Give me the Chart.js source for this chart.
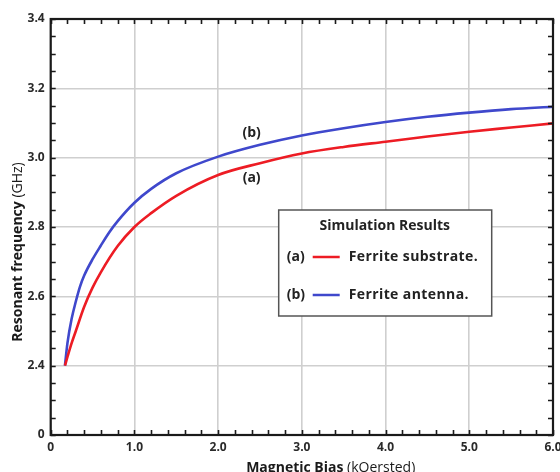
<!DOCTYPE html>
<html><head><meta charset="utf-8">
<script src="https://cdn.jsdelivr.net/npm/chart.js@4"></script>
<style>html,body{margin:0;padding:0;background:#fff}</style>
</head><body>
<canvas id="c" width="560" height="472"></canvas>
<script>
// ---- data ----
const biasA = [0.17, 0.2, 0.25, 0.3, 0.4, 0.5, 0.6, 0.8, 1.0, 1.2, 1.5, 2.0, 2.5, 3.0, 3.5, 4.0, 4.5, 5.0, 5.5, 6.0];
const freqA = [2.40, 2.425, 2.465, 2.50, 2.57, 2.625, 2.67, 2.745, 2.80, 2.84, 2.89, 2.95, 2.984, 3.012, 3.031, 3.046, 3.061, 3.075, 3.087, 3.099];
const biasB = [0.17, 0.2, 0.25, 0.3, 0.35, 0.4, 0.5, 0.6, 0.7, 0.8, 1.0, 1.2, 1.5, 2.0, 2.5, 3.0, 3.5, 4.0, 4.5, 5.0, 5.5, 6.0];
const freqB = [2.40, 2.465, 2.535, 2.585, 2.628, 2.66, 2.707, 2.747, 2.785, 2.817, 2.87, 2.91, 2.955, 3.003, 3.037, 3.064, 3.085, 3.103, 3.118, 3.13, 3.14, 3.147];
const xTickLabels = ['0', '1.0', '2.0', '3.0', '4.0', '5.0', '6.0'];
const yTickLabels = ['0', '2.4', '2.6', '2.8', '3.0', '3.2', '3.4'];
const seriesNames = ['Ferrite substrate.', 'Ferrite antenna.'];
const seriesTags = ['(a)', '(b)'];
const tagX = [2.4, 2.4];
const tagY = [2.941, 3.072];
const legendTitle = 'Simulation Results';
const xTitle = ['Magnetic Bias ', '(kOersted)'];
const yTitle = ['Resonant frequency ', '(GHz)'];

const FONT = '"Open Sans", "DejaVu Sans", sans-serif';
const colors = ['#ed1c24', '#3f48cc'];

const framePlugin = {
  id: 'frame',
  afterDraw(chart) {
    const {ctx, chartArea: a, scales: {x, y}} = chart;
    ctx.save();
    // inward ticks
    ctx.strokeStyle = '#1a1a1a';
    ctx.lineWidth = 1.6;
    const tl = 5;
    const xs = chart.options.scales.x, ys = chart.options.scales.y;
    const nx = Math.round((xs.max - xs.min) / 0.2);
    for (let i = 0; i <= nx; i++) {
      const px = Math.round(x.getPixelForValue(xs.min + i * 0.2)) + 0.5;
      ctx.beginPath();
      ctx.moveTo(px, a.bottom); ctx.lineTo(px, a.bottom - tl);
      ctx.moveTo(px, a.top); ctx.lineTo(px, a.top + tl);
      ctx.stroke();
    }
    const ny = Math.round((ys.max - ys.min) / 0.05);
    for (let i = 0; i <= ny; i++) {
      const py = Math.round(y.getPixelForValue(ys.min + i * 0.05)) + 0.5;
      ctx.beginPath();
      ctx.moveTo(a.left, py); ctx.lineTo(a.left + tl, py);
      ctx.moveTo(a.right, py); ctx.lineTo(a.right - tl, py);
      ctx.stroke();
    }
    // frame
    ctx.lineWidth = 2.2;
    ctx.strokeRect(a.left, a.top, a.right - a.left, a.bottom - a.top);

    // curve tags
    ctx.fillStyle = '#222';
    ctx.font = 'bold 14px ' + FONT;
    ctx.textAlign = 'center';
    ctx.textBaseline = 'middle';
    for (let i = 0; i < seriesTags.length; i++) {
      ctx.fillText(seriesTags[i], x.getPixelForValue(tagX[i]), y.getPixelForValue(tagY[i]));
    }

    // legend box
    const lx = a.left + 228, ly = a.top + 191, lw = 213, lh = 106;
    ctx.fillStyle = '#fff';
    ctx.fillRect(lx, ly, lw, lh);
    ctx.strokeStyle = '#555';
    ctx.lineWidth = 1.5;
    ctx.strokeRect(lx, ly, lw, lh);
    ctx.fillStyle = '#222';
    ctx.font = 'bold 14px ' + FONT;
    ctx.textAlign = 'center';
    ctx.fillText(legendTitle, lx + 106, ly + 16);
    for (let i = 0; i < seriesNames.length; i++) {
      const cy = ly + 47 + i * 38;
      ctx.textAlign = 'left';
      ctx.font = 'bold 14px ' + FONT;
      ctx.fillText(seriesTags[i], lx + 8, cy);
      ctx.strokeStyle = colors[i];
      ctx.lineWidth = 2.5;
      ctx.beginPath(); ctx.moveTo(lx + 34, cy); ctx.lineTo(lx + 61, cy); ctx.stroke();
      ctx.font = 'bold 14px ' + FONT;
      if ('letterSpacing' in ctx) ctx.letterSpacing = '0.4px';
      ctx.fillText(seriesNames[i], lx + 70, cy);
      if ('letterSpacing' in ctx) ctx.letterSpacing = '0px';
    }

    // axis titles (mixed weight)
    ctx.fillStyle = '#1a1a1a';
    ctx.textBaseline = 'middle';
    const drawParts = (parts, cx, cy) => {
      ctx.font = 'bold 14px ' + FONT;
      const w0 = ctx.measureText(parts[0]).width;
      ctx.font = '14px ' + FONT;
      const w1 = ctx.measureText(parts[1]).width;
      let sx = cx - (w0 + w1) / 2;
      ctx.textAlign = 'left';
      ctx.font = 'bold 14px ' + FONT;
      ctx.fillText(parts[0], sx, cy);
      ctx.font = '14px ' + FONT;
      ctx.fillText(parts[1], sx + w0, cy);
    };
    drawParts(xTitle, a.left + 280, a.bottom + 33);
    ctx.save();
    ctx.translate(a.left - 33, a.top + 233);
    ctx.rotate(-Math.PI / 2);
    drawParts(yTitle, 0, 0);
    ctx.restore();
    ctx.restore();
  }
};

new Chart(document.getElementById('c'), {
  type: 'line',
  data: {
    datasets: [
      { label: seriesNames[0], data: biasA.map((v, i) => ({x: v, y: freqA[i]})),
        borderColor: colors[0], borderWidth: 2.6, pointRadius: 0, cubicInterpolationMode: 'monotone', fill: false },
      { label: seriesNames[1], data: biasB.map((v, i) => ({x: v, y: freqB[i]})),
        borderColor: colors[1], borderWidth: 2.6, pointRadius: 0, cubicInterpolationMode: 'monotone', fill: false }
    ]
  },
  options: {
    responsive: false,
    animation: false,
    layout: { padding: { top: 19, right: 7, left: 0, bottom: 0 } },
    plugins: { legend: { display: false }, tooltip: { enabled: false } },
    scales: {
      x: {
        type: 'linear', min: 0, max: 6,
        grid: { color: '#cfcfcf', lineWidth: 1.6, drawTicks: false },
        border: { display: false },
        ticks: { stepSize: 1, padding: 5, color: '#2a2a2a', font: { family: FONT, size: 12, weight: 'bold' },
          maxRotation: 0, autoSkip: false,
          callback: (v, i) => xTickLabels[i] },
        afterFit: s => { s.height = 37; s.paddingLeft = 0; s.paddingRight = 0; }
      },
      y: {
        type: 'linear', min: 2.2, max: 3.4,
        grid: { color: '#cfcfcf', lineWidth: 1.6, drawTicks: false },
        border: { display: false },
        ticks: { stepSize: 0.2, padding: 6, color: '#2a2a2a', font: { family: FONT, size: 12, weight: 'bold' },
          autoSkip: false,
          callback: (v, i) => yTickLabels[i] },
        afterFit: s => { s.width = 50.7; s.paddingTop = 0; s.paddingBottom = 0; }
      }
    }
  },
  plugins: [framePlugin]
});
</script>
</body></html>
